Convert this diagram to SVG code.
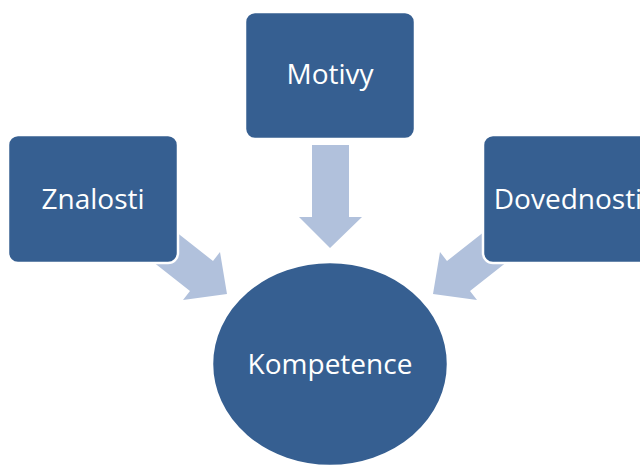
<svg xmlns="http://www.w3.org/2000/svg" width="640" height="467" viewBox="0 0 640 467">
<style>
.box{fill:#365f91;stroke:#ffffff;stroke-width:2.5}
.arr{fill:#b1c1dc}
.lbl{font-family:"Open Sans","Liberation Sans",sans-serif;font-size:28px;fill:#ffffff;text-anchor:middle}
</style>
<rect width="640" height="467" fill="#ffffff"/>
<g id="connectors">
<polygon class="arr" points="312,145 349,145 349,217 362,217 330,248 299,217 312,217"/>
<polygon class="arr" points="143,254 166,224 213,261 220,252 227,294 183,300 190,291"/>
<polygon class="arr" points="517,254 494,224 447,261 440,252 433,294 477,300 470,291"/>
</g>
<g id="motivy">
<rect class="box" x="245" y="12" width="170" height="127" rx="10"/>
<text class="lbl" x="330" y="84">Motivy</text>
</g>
<g id="znalosti">
<rect class="box" x="8" y="135" width="170" height="128" rx="10"/>
<text class="lbl" x="93" y="209">Znalosti</text>
</g>
<g id="dovednosti">
<rect class="box" x="483" y="135" width="170" height="128" rx="10"/>
<text class="lbl" x="568" y="209">Dovednosti</text>
</g>
<g id="kompetence">
<ellipse class="box" cx="330" cy="364" rx="118" ry="102" stroke="none"/>
<text class="lbl" x="330" y="374">Kompetence</text>
</g>
</svg>
